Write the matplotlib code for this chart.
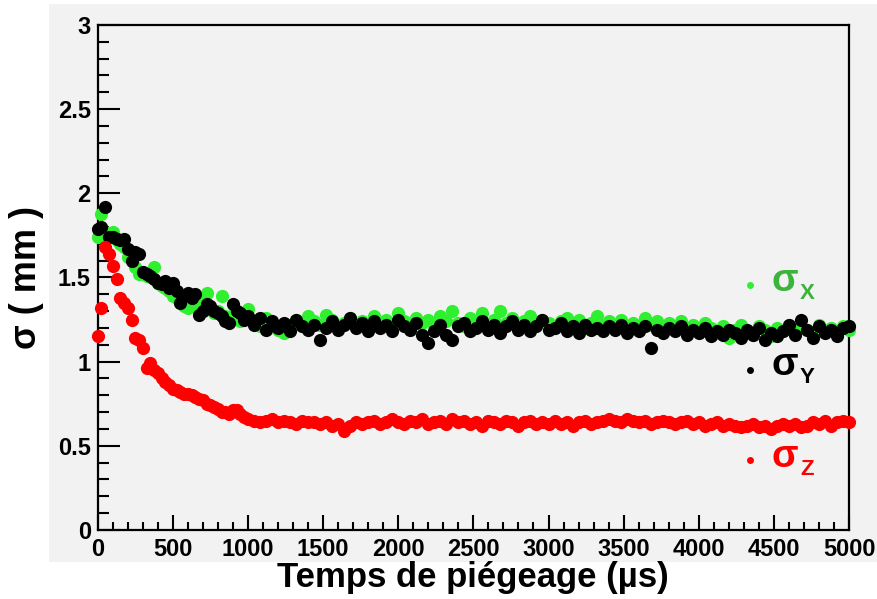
import numpy as np
import matplotlib
matplotlib.use("Agg")
import matplotlib.pyplot as plt
from matplotlib.patches import Rectangle
from matplotlib.ticker import MultipleLocator

plt.rcParams['font.family'] = ['Liberation Sans', 'DejaVu Sans']

# trapping time (us): dense at the start, then every 40 us
t_early = [0, 25, 50, 75, 100, 125, 150, 175, 200, 225, 250, 275, 300, 325, 350,
           375, 400, 425, 450, 475, 500, 525, 550, 575, 600, 625, 650, 675, 700,
           725, 750, 775, 800, 825, 850, 875, 900, 925, 950, 975, 1000]
t_late = [1040, 1080, 1120, 1160, 1200, 1240, 1280, 1320, 1360, 1400,
          1440, 1480, 1520, 1560, 1600, 1640, 1680, 1720, 1760, 1800,
          1840, 1880, 1920, 1960, 2000, 2040, 2080, 2120, 2160, 2200,
          2240, 2280, 2320, 2360, 2400, 2440, 2480, 2520, 2560, 2600,
          2640, 2680, 2720, 2760, 2800, 2840, 2880, 2920, 2960, 3000,
          3040, 3080, 3120, 3160, 3200, 3240, 3280, 3320, 3360, 3400,
          3440, 3480, 3520, 3560, 3600, 3640, 3680, 3720, 3760, 3800,
          3840, 3880, 3920, 3960, 4000, 4040, 4080, 4120, 4160, 4200,
          4240, 4280, 4320, 4360, 4400, 4440, 4480, 4520, 4560, 4600,
          4640, 4680, 4720, 4760, 4800, 4840, 4880, 4920, 4960, 5000]
temps = t_early + t_late

sigma_x = [1.74, 1.88, 1.77, 1.75, 1.77, 1.72, 1.70, 1.68, 1.62, 1.61, 1.56,
           1.52, 1.52, 1.51, 1.50, 1.56, 1.47, 1.45, 1.44, 1.42, 1.39, 1.38,
           1.36, 1.33, 1.32, 1.35, 1.34, 1.30, 1.37, 1.41, 1.31, 1.29, 1.30,
           1.39, 1.27, 1.26, 1.28, 1.27, 1.24, 1.26, 1.31,
           1.24, 1.21, 1.26, 1.22, 1.19, 1.17, 1.22, 1.25, 1.21, 1.27,
           1.24, 1.22, 1.28, 1.25, 1.21, 1.23, 1.26, 1.22, 1.24, 1.20,
           1.27, 1.23, 1.25, 1.22, 1.29, 1.24, 1.21, 1.26, 1.23, 1.25,
           1.22, 1.27, 1.24, 1.30, 1.23, 1.21, 1.26, 1.24, 1.29, 1.22,
           1.25, 1.30, 1.23, 1.26, 1.21, 1.24, 1.27, 1.22, 1.25, 1.23,
           1.21, 1.24, 1.26, 1.22, 1.25, 1.20, 1.23, 1.27, 1.21, 1.24,
           1.22, 1.25, 1.20, 1.23, 1.21, 1.26, 1.22, 1.24, 1.20, 1.23,
           1.21, 1.24, 1.19, 1.22, 1.18, 1.23, 1.20, 1.17, 1.21, 1.14,
           1.19, 1.22, 1.18, 1.16, 1.21, 1.19, 1.15, 1.20, 1.18, 1.22,
           1.17, 1.21, 1.19, 1.16, 1.22, 1.18, 1.20, 1.17, 1.21, 1.19]

sigma_y = [1.79, 1.80, 1.92, 1.74, 1.74, 1.73, 1.72, 1.73, 1.67, 1.60, 1.65,
           1.64, 1.53, 1.52, 1.51, 1.49, 1.47, 1.46, 1.48, 1.44, 1.47, 1.42,
           1.35, 1.39, 1.41, 1.38, 1.40, 1.28, 1.30, 1.34, 1.33, 1.30, 1.29,
           1.27, 1.24, 1.23, 1.34, 1.30, 1.29, 1.25, 1.27,
           1.22, 1.26, 1.19, 1.24, 1.20, 1.23, 1.18, 1.25, 1.21, 1.19,
           1.22, 1.13, 1.20, 1.24, 1.19, 1.22, 1.26, 1.20, 1.23, 1.18,
           1.24, 1.20, 1.22, 1.18, 1.25, 1.21, 1.19, 1.23, 1.16, 1.11,
           1.18, 1.22, 1.16, 1.13, 1.21, 1.23, 1.18, 1.20, 1.24, 1.19,
           1.22, 1.17, 1.21, 1.24, 1.19, 1.22, 1.18, 1.21, 1.25, 1.19,
           1.20, 1.23, 1.18, 1.21, 1.17, 1.22, 1.19, 1.20, 1.18, 1.21,
           1.19, 1.22, 1.17, 1.20, 1.18, 1.21, 1.08, 1.19, 1.17, 1.20,
           1.18, 1.21, 1.16, 1.19, 1.17, 1.20, 1.15, 1.18, 1.16, 1.19,
           1.17, 1.14, 1.19, 1.16, 1.20, 1.13, 1.17, 1.15, 1.18, 1.22,
           1.16, 1.25, 1.19, 1.14, 1.21, 1.17, 1.19, 1.15, 1.20, 1.21]

sigma_z = [1.15, 1.32, 1.68, 1.64, 1.57, 1.49, 1.38, 1.35, 1.32, 1.25, 1.14,
           1.13, 1.08, 0.96, 0.99, 0.95, 0.93, 0.90, 0.88, 0.86, 0.84, 0.83,
           0.82, 0.81, 0.81, 0.80, 0.79, 0.78, 0.77, 0.75, 0.74, 0.73, 0.72,
           0.70, 0.70, 0.69, 0.71, 0.71, 0.69, 0.67, 0.66,
           0.65, 0.64, 0.65, 0.66, 0.64, 0.65, 0.64, 0.63, 0.65, 0.64,
           0.64, 0.63, 0.64, 0.62, 0.63, 0.59, 0.62, 0.64, 0.63, 0.64,
           0.65, 0.63, 0.64, 0.66, 0.64, 0.63, 0.65, 0.64, 0.66, 0.63,
           0.64, 0.65, 0.63, 0.66, 0.64, 0.65, 0.63, 0.64, 0.62, 0.65,
           0.64, 0.63, 0.65, 0.64, 0.62, 0.64, 0.65, 0.63, 0.64, 0.63,
           0.65, 0.63, 0.64, 0.62, 0.64, 0.65, 0.63, 0.64, 0.65, 0.66,
           0.65, 0.64, 0.66, 0.65, 0.64, 0.65, 0.63, 0.64, 0.65, 0.64,
           0.63, 0.64, 0.65, 0.63, 0.64, 0.62, 0.63, 0.64, 0.62, 0.63,
           0.62, 0.61, 0.62, 0.63, 0.61, 0.62, 0.60, 0.62, 0.63, 0.62,
           0.63, 0.61, 0.62, 0.64, 0.63, 0.65, 0.62, 0.64, 0.65, 0.64]

x_ticks = [0, 500, 1000, 1500, 2000, 2500, 3000, 3500, 4000, 4500, 5000]
y_ticks = [0, 0.5, 1, 1.5, 2, 2.5, 3]
y_tick_labels = ["0", "0.5", "1", "1.5", "2", "2.5", "3"]

bg = '#f2f2f2'
green_dot = '#2ef02e'
green_txt = '#3cb43c'
red = '#ff0000'

fig = plt.figure(figsize=(8.78, 5.99), dpi=100, facecolor='white')
fig.patches.append(Rectangle((49 / 878, 37 / 599), 829 / 878, 558 / 599,
                             transform=fig.transFigure, facecolor=bg,
                             edgecolor='none', zorder=-10))
ax = fig.add_axes([0.1113, 0.1152, 0.8557, 0.8431])
ax.set_facecolor(bg)

ax.plot(temps, sigma_x, 'o', color=green_dot, ms=9.5, mew=0, clip_on=False, zorder=3)
ax.plot(temps, sigma_y, 'o', color='black', ms=9.5, mew=0, clip_on=False, zorder=4)
ax.plot(temps, sigma_z, 'o', color=red, ms=9.5, mew=0, clip_on=False, zorder=4)

ax.set_xlim(0, 5000)
ax.set_ylim(0, 3)
ax.set_xticks(x_ticks)
ax.set_xticklabels([str(v) for v in x_ticks])
ax.set_yticks(y_ticks)
ax.set_yticklabels(y_tick_labels)
ax.xaxis.set_minor_locator(MultipleLocator(100))
ax.yaxis.set_minor_locator(MultipleLocator(0.1))

for s in ax.spines.values():
    s.set_linewidth(1.6)
    s.set_color('black')
ax.tick_params(axis='both', which='both', direction='in', width=1.5,
               labelsize=17, top=False, right=False)
ax.tick_params(axis='x', which='major', length=11, pad=6)
ax.tick_params(axis='x', which='minor', length=5.5)
ax.tick_params(axis='y', which='major', length=15.5, pad=5)
ax.tick_params(axis='y', which='minor', length=8)
for lab in ax.get_xticklabels() + ax.get_yticklabels():
    lab.set_fontweight('bold')

ax.set_xlabel('Temps de piégeage (µs)', fontsize=25, fontweight='bold', labelpad=0)
ax.set_ylabel('σ ( mm )', fontsize=26, fontweight='bold', labelpad=10)

# legend-like annotations
leg = [('X', green_dot, green_txt, 0.493, 0.485),
       ('Y', 'black', 'black', 0.327, 0.317),
       ('Z', red, red, 0.145, 0.139)]
for sub, dc, tc, ty, dy in leg:
    ax.plot([0.868], [dy], 'o', color=dc, ms=5, mew=0, transform=ax.transAxes, clip_on=False)
    ax.text(0.915, ty, 'σ', color=tc, fontsize=28, fontweight='bold',
            ha='center', va='center', transform=ax.transAxes)
    ax.text(0.944, ty - 0.025, sub, color=tc, fontsize=16, fontweight='bold',
            ha='center', va='center', transform=ax.transAxes)

fig.savefig('out.png', dpi=100, facecolor='white')
